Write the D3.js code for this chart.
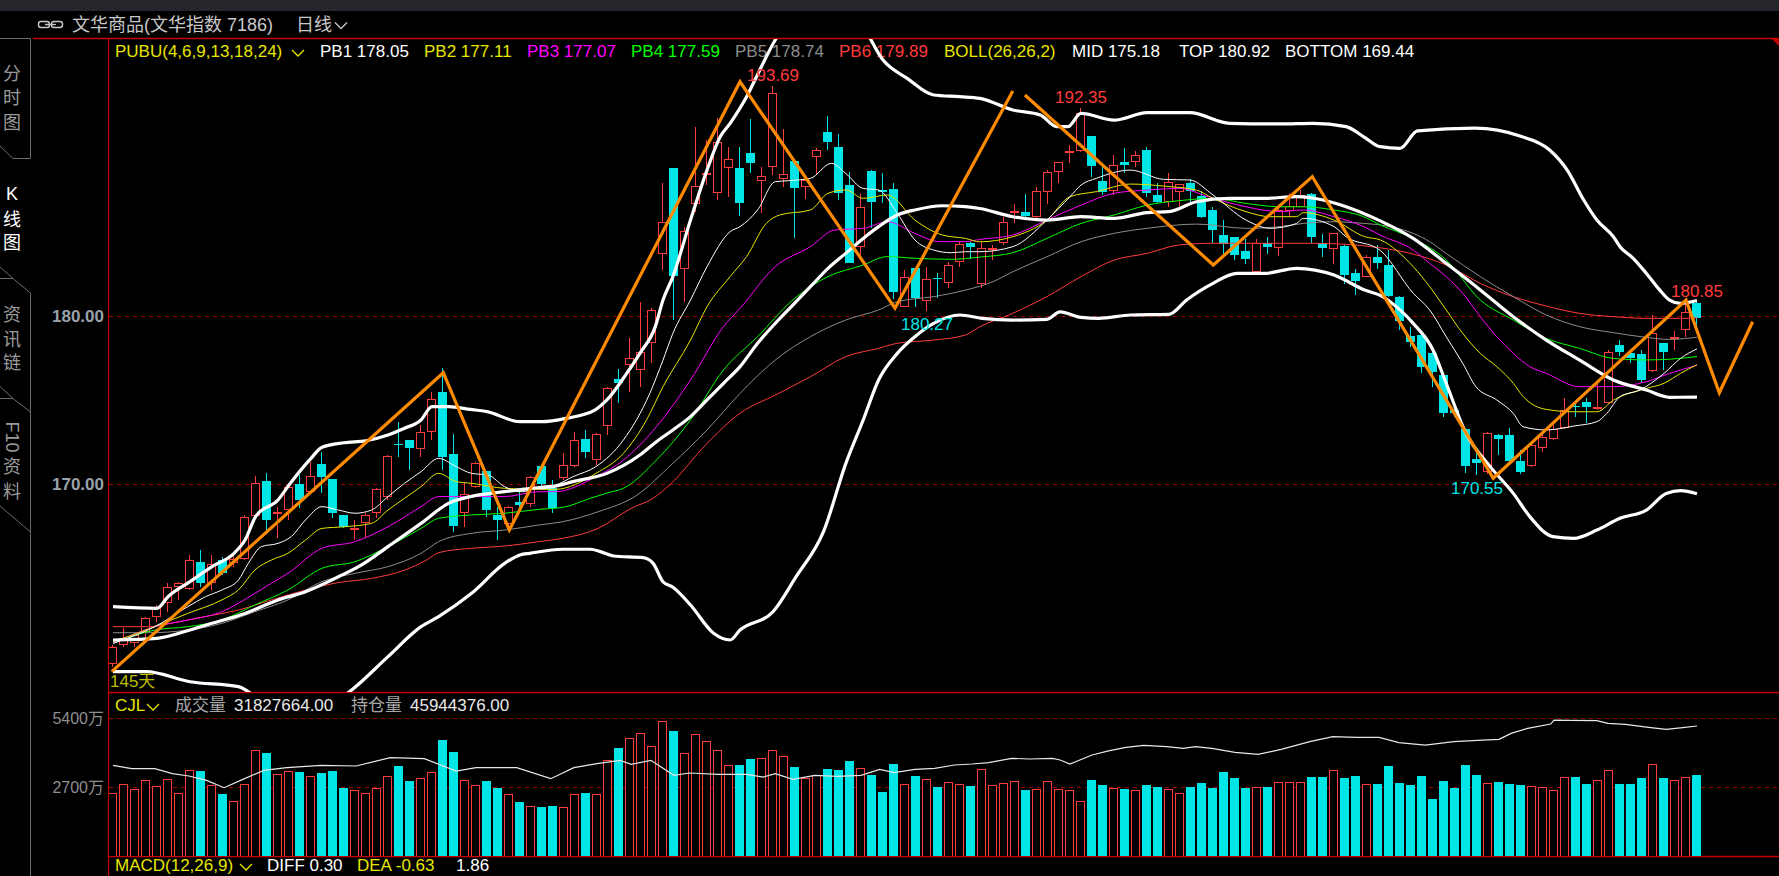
<!DOCTYPE html>
<html><head><meta charset="utf-8">
<script src="https://cdn.jsdelivr.net/npm/d3@7/dist/d3.min.js"></script>
<style>
html,body{margin:0;padding:0;background:#000;overflow:hidden;}
svg{display:block;}
text{font-family:"Liberation Sans",Arial,"Noto Sans CJK SC",sans-serif;}
</style></head><body>
<svg id="chart" width="1779" height="876"></svg>
<script>
// ---------------- DATA ----------------
const opens = [159.32,160.45,160.55,161.24,162.10,162.93,163.92,163.76,165.36,164.16,
165.48,165.30,165.54,168.12,170.20,168.22,168.47,170.02,169.52,171.21,
170.32,168.18,167.26,167.68,168.31,169.23,172.37,172.63,172.08,173.13,
175.50,171.78,168.31,169.82,170.79,168.18,167.62,168.97,168.81,171.09,
169.76,170.35,171.09,172.69,171.44,173.48,176.26,177.09,176.79,178.41,
183.66,188.77,182.77,186.63,188.44,187.29,188.77,188.77,189.66,188.04,
188.83,188.12,189.21,187.64,189.47,190.95,190.02,187.78,184.08,188.61,
187.49,187.55,180.51,182.83,180.91,182.24,181.94,183.19,184.32,181.90,
183.92,184.32,186.14,186.16,185.90,187.39,188.57,189.70,189.82,190.69,
188.02,187.44,189.15,189.17,189.86,187.17,186.79,187.35,187.88,187.13,
186.30,184.81,184.67,183.86,182.59,184.32,184.02,186.26,186.49,187.25,
184.32,183.96,184.18,182.53,182.33,183.48,183.03,181.15,178.81,178.87,
177.82,176.49,174.41,173.27,171.48,170.75,172.93,172.93,171.38,171.09,
172.14,172.67,173.33,174.65,174.87,174.47,174.81,178.28,177.78,177.74,
176.73,178.38,178.63,179.17,180.75];
const highs = [160.45,161.44,161.15,162.14,162.83,164.12,164.22,165.80,166.10,165.80,
165.70,165.80,168.18,170.49,170.65,168.67,169.96,170.55,171.35,171.94,
170.32,168.18,167.88,168.27,169.76,171.74,173.72,172.63,173.52,175.46,
176.90,172.99,170.06,171.35,170.79,168.67,168.73,169.66,170.49,171.09,
170.26,171.84,173.13,173.23,173.03,175.80,176.83,178.67,180.85,180.45,
187.88,188.77,185.31,191.25,190.46,191.74,190.06,190.02,191.68,188.83,
193.69,191.11,189.27,188.18,189.96,191.88,190.81,188.57,187.25,188.67,
188.51,187.88,182.73,182.83,182.93,182.53,183.23,184.48,184.42,184.42,
184.22,185.90,186.65,187.25,187.68,188.67,189.17,190.16,192.35,190.69,
188.83,189.56,189.96,189.80,190.06,187.92,188.47,187.82,188.14,187.42,
186.45,185.70,184.71,184.57,184.55,184.67,186.59,187.29,187.48,187.30,
184.85,184.95,184.20,182.77,183.62,184.22,183.92,181.20,179.37,179.07,
178.18,176.55,174.61,173.33,171.94,173.13,172.97,173.33,172.04,172.43,
173.13,173.52,175.11,174.91,175.11,176.00,177.98,178.57,177.98,177.98,
180.06,178.40,179.11,180.80,180.85];
const lows = [159.16,160.35,160.35,160.95,161.84,162.43,163.13,163.72,163.92,163.72,
164.61,165.11,165.50,168.08,167.28,166.79,167.88,168.57,169.46,169.46,
167.98,167.38,166.69,166.79,167.98,169.07,171.64,170.85,171.64,172.63,
170.85,167.19,167.48,169.76,168.08,166.69,167.48,168.67,168.67,169.86,
168.28,170.25,171.05,171.54,171.15,172.93,174.85,175.50,175.80,177.23,
182.73,179.76,180.85,186.20,187.78,186.89,187.09,185.96,188.48,186.10,
188.38,187.68,184.61,186.93,188.38,189.86,186.89,183.13,183.52,185.21,
186.69,180.99,180.51,180.55,180.27,181.05,181.64,182.89,183.37,181.68,
183.32,184.22,185.50,185.90,185.80,186.65,187.88,189.11,189.76,188.28,
187.19,187.19,188.47,188.83,187.05,186.69,186.45,186.53,186.79,185.80,
184.32,183.68,183.32,183.11,182.59,183.68,183.58,185.90,186.49,184.32,
183.48,183.09,181.90,181.22,182.33,182.77,181.15,179.17,178.18,176.59,
175.76,174.02,174.02,170.69,170.55,170.60,171.74,171.34,170.61,171.01,
171.94,172.63,173.30,174.02,173.66,174.41,174.77,177.62,177.23,176.04,
176.69,176.79,177.98,178.73,179.37];
const closes = [160.35,160.85,161.03,162.04,162.63,163.92,164.12,165.50,164.16,165.24,
164.75,165.54,168.04,170.06,167.90,168.37,169.82,169.07,170.51,170.41,
168.28,167.48,167.38,168.18,169.70,171.70,172.32,172.14,173.13,175.05,
171.64,167.54,169.40,171.25,168.47,167.88,168.67,168.77,170.41,170.02,
168.57,171.15,172.63,171.94,172.99,175.70,176.04,177.48,177.84,180.36,
185.60,182.39,185.07,187.74,188.52,190.32,189.31,186.73,189.11,188.30,
193.23,188.42,187.58,188.08,189.86,190.36,187.29,183.13,186.46,186.79,
187.39,181.41,182.30,181.09,182.18,182.18,183.03,184.28,184.08,184.06,
184.02,185.56,186.24,185.94,187.42,188.53,189.13,189.80,192.04,188.91,
187.39,188.95,188.95,189.54,187.33,186.77,187.94,187.82,187.44,185.88,
185.11,184.28,183.62,183.38,184.32,184.08,186.30,186.53,187.19,184.71,
184.06,184.91,182.43,182.10,183.48,183.17,181.21,179.72,178.48,176.99,
176.69,174.22,174.22,171.09,171.29,173.03,172.71,171.40,170.73,172.33,
172.83,173.27,174.41,174.57,174.57,174.57,177.88,177.88,177.48,176.20,
178.97,177.84,178.77,180.22,179.86];
// volume, in 万
const volumes = [2478,2830,2634,2960,2725,2999,2478,3351,3325,2791,
2412,2139,2804,4134,4029,3195,3312,3286,3143,3247,
3325,2660,2569,2478,2647,3143,3508,2921,3064,3273,
4525,4069,2960,2765,2921,2660,2412,2099,1943,1904,
1943,1904,2412,2451,2412,3742,4212,4629,4825,4316,
5294,4877,4016,4786,4512,4160,3573,3547,3782,3847,
4160,3899,3469,3064,3156,3390,3351,3704,3456,3182,
2498,3593,2804,3130,2999,2699,2882,2804,2738,3390,
2764,2843,2921,2582,2608,2921,2608,2569,2139,2973,
2778,2647,2621,2569,2778,2699,2608,2478,2699,2856,
2660,3286,3051,2660,2712,2699,2882,2882,2882,3090,
3090,3351,3051,3130,2804,2817,3521,2856,2778,3130,
2230,2934,2660,3560,3169,2843,2895,2817,2778,2725,
2686,2569,3077,3090,2817,2960,3351,2817,2817,3051,
3586,3051,2960,3077,3183];

// indicator lines: [day index, value]
const pb1 = [[0,160.55],[3.8,161.54],[6.8,162.73],[8.4,163.32],[9.9,163.72],[11.4,164.31],[12.3,165.3],[13.5,166.3],[15,166.49],[16.2,166.89],[17.5,167.88],[19,168.67],[20.5,168.47],[22,168.28],[23.5,168.47],[25,169.27],[26.5,170.06],[28,170.75],[29.6,171.54],[31.2,171.05],[32.6,170.65],[34.1,170.55],[35.6,169.86],[37.2,169.56],[38.7,169.86],[40.2,169.96],[41.8,170.45],[43.9,171.05],[46.4,172.63],[48.8,175.4],[50,177.38],[50.9,178.97],[52.5,180.95],[54,182.93],[56.1,185.01],[57,185.31],[58.6,186.3],[60.2,187.98],[61.4,188.04],[63.4,188.18],[65.3,189.07],[66.6,188.48],[68.2,187.58],[69.6,187.49],[71.3,186.1],[72.9,184.52],[74.6,183.92],[76.2,183.76],[77.5,183.82],[78.8,183.82],[81.8,184.12],[84.9,185.7],[87,187.09],[88,187.78],[89.4,188.18],[92.5,188.67],[95.5,188.12],[97.9,188.08],[100,187.19],[103,185.7],[105.2,185.21],[107.6,185.5],[108.2,185.8],[111,185.31],[112.1,184.71],[115.2,183.9],[118.2,181.35],[119.7,180.36],[121.2,178.77],[122.7,177.19],[123.9,175.8],[125.8,175.01],[127.3,174.21],[128.2,173.42],[130.3,173.23],[132.8,173.46],[134.9,173.72],[135.8,174.21],[137,175.21],[138.8,175.6],[141,176.59],[142.5,177.48],[144,178.05]];
const pb2 = [[0,160.65],[3.8,161.54],[6.8,162.33],[9.9,163.13],[11.4,163.72],[12.9,164.91],[14.4,165.5],[15.9,165.9],[17.5,166.69],[19,167.38],[21.1,167.48],[23.5,167.68],[25,168.47],[26.5,169.17],[28,169.86],[29.6,170.65],[31.2,170.16],[32.6,170.06],[35.6,169.76],[38.7,169.7],[40.2,169.7],[43.9,170.65],[46.4,171.84],[48.5,173.82],[50,175.8],[52.5,178.57],[54,180.55],[56.1,182.34],[57.6,183.53],[59.4,185.51],[60.6,186],[63.4,186.3],[65,187.29],[66.6,187.49],[68.2,186.99],[70.4,187.19],[72.9,185.7],[75.4,184.81],[77.5,184.61],[78.8,184.41],[81.8,184.71],[84.9,185.7],[87,187.09],[89.4,187.39],[92.5,187.84],[95.5,187.72],[98.5,187.48],[100,186.99],[103,186.2],[105.2,185.9],[107.6,185.9],[108.2,186.14],[111,185.7],[113.8,184.71],[115.2,184.52],[118.2,182.93],[119.7,181.74],[121.2,180.36],[122.7,178.97],[124.3,177.78],[125.8,176.99],[127.3,176],[128.2,175.21],[130.3,174.45],[132.8,174.31],[134.9,174.31],[136.4,175],[139.4,175.7],[141,176],[142.5,176.59],[144,177.11]];
const pb3 = [[0,160.55],[3.8,161.54],[6.8,161.94],[9.9,162.43],[11.4,162.93],[12.9,163.52],[14.4,164.12],[15.9,164.71],[19,166.2],[22,166.59],[25,167.48],[28,168.67],[29.6,169.27],[32.6,169.27],[35.6,169.27],[38.7,169.56],[40.2,169.56],[43.9,170.45],[46.4,171.44],[49.4,173.42],[52.5,176.2],[55.5,179.37],[57,180.45],[60.2,182.93],[63.4,184.12],[65.6,185.11],[68.2,185.21],[70.4,185.6],[72.9,184.91],[75.1,184.42],[77.5,184.42],[78.8,184.55],[81.8,184.81],[84.9,185.7],[88,186.59],[91,187.29],[94,187.48],[96.9,187.58],[100,186.99],[103,186.49],[106.1,186.2],[108.2,186.3],[111,185.9],[113.7,185.31],[115.2,184.81],[118.2,183.92],[119.7,183.13],[121.2,182.34],[122.7,181.35],[124.3,179.96],[125.8,178.77],[127.3,177.78],[128.8,176.99],[130.3,176.59],[133.3,175.8],[136.4,175.8],[139.4,176.1],[141.5,176.59],[144,177.07]];
const pb4 = [[0,160.55],[3.8,161.34],[6.8,161.54],[9.9,161.94],[12.9,162.83],[15.9,163.72],[19,165.01],[22,165.4],[25,166.3],[28,167.38],[29.6,167.98],[32.6,168.18],[35.6,168.28],[38.7,168.51],[40.9,168.63],[43.4,169.17],[45,169.5],[46.4,169.76],[49.4,171.44],[52.5,173.82],[55.5,176.79],[58.6,178.77],[61.8,180.95],[65,182.34],[68.2,183.03],[70.4,183.53],[72.9,183.43],[76.2,183.37],[78.8,183.5],[81.8,183.76],[84.9,184.61],[88,185.5],[91,186],[94,186.59],[96.9,186.85],[100,186.99],[103,186.69],[106.1,186.49],[108.2,186.49],[111,186.3],[113.7,185.9],[115.2,185.41],[118.2,184.61],[121.2,183.33],[124.3,180.95],[127.3,179.76],[130.3,178.67],[133.3,178.08],[136.4,177.48],[139.4,177.39],[141.5,177.43],[144,177.59]];
const pb5 = [[0,161.18],[3.2,161.18],[6.8,161.34],[9.9,161.74],[12.9,162.43],[15.9,163.13],[19,164.22],[22,164.71],[25,165.11],[28,165.9],[29.6,166.59],[32.6,167.09],[35.6,167.28],[38.7,167.58],[40.9,167.78],[44.1,168.37],[47.5,169.3],[50.9,171.25],[54,173.23],[57,175.4],[60.2,177.38],[63.4,178.77],[66.6,179.76],[69.6,180.36],[71.3,180.85],[74.6,181.15],[77.5,181.54],[80,182.04],[81.8,182.63],[84.9,183.52],[88,184.41],[91,184.91],[94,185.21],[98.5,185.46],[103,185.21],[106.1,185.31],[108.2,185.5],[111,185.6],[113.7,185.5],[115.2,185.41],[118.2,184.91],[119.7,184.42],[121.2,183.72],[124.3,182.34],[127.3,181.15],[130.3,180.06],[133.3,179.37],[136.4,179.01],[139.4,178.73],[141.5,178.61],[144,178.74]];
const pb6 = [[0,161.54],[3.2,161.54],[5.3,161.74],[8.4,162.14],[11.4,162.53],[14.4,163.13],[17.5,163.72],[20.5,164.16],[23.5,164.41],[26.5,164.9],[28.5,165.5],[29.6,165.94],[32.6,166.2],[35.6,166.33],[38.7,166.59],[40.9,166.79],[44.1,167.38],[47.1,168.57],[49.1,169.17],[50.6,169.96],[54,172.43],[57,174.22],[60.2,175.3],[63.4,176.39],[66.6,177.58],[69.6,178.08],[71.3,178.38],[74.6,178.57],[77.5,178.87],[78.8,179.36],[81.8,180.16],[84.9,181.15],[88,182.34],[91,183.32],[94,183.72],[96.9,184.22],[100,184.32],[103,184.32],[106.1,184.32],[109.1,184.32],[112.1,184.26],[115.2,184.05],[118.2,183.68],[121.2,183.03],[124.3,181.94],[127.3,181.15],[130.3,180.59],[133.3,180.16],[136.4,179.96],[139.4,179.86],[142.5,179.86],[144,179.89]];
const bollTop = [[0,162.73],[4,162.63],[5,163.32],[7,164.22],[9,165.11],[11,165.9],[12,166.69],[13,168.12],[15,169.07],[16,169.96],[18,171.54],[19,172.2],[21,172.47],[23,172.59],[25,172.93],[26.5,173.33],[28,173.82],[29,174.61],[30.5,174.61],[32.5,174.45],[34,174.32],[37,173.72],[39,173.72],[41.2,173.92],[43.8,174.41],[44.9,175.01],[46.7,176.59],[47.9,177.78],[49.3,179.37],[50,180.95],[50.9,182.34],[52.5,185.7],[54,188.67],[55.2,190.65],[56.1,191.45],[57.6,193.03],[58.8,194.62],[60.2,196.4],[62,198],[64,199],[66,198.6],[68,197.4],[70,195.21],[72.2,194.12],[74.6,193.13],[77,193.03],[78.8,192.93],[81.8,192.24],[84.3,191.94],[85.8,191.25],[86.8,191.25],[88,192.04],[91,191.64],[94,192.08],[97.9,192.08],[101.5,191.45],[106.1,191.41],[109.1,191.45],[112.1,191.25],[113.7,190.65],[115.2,190.06],[117,189.96],[118.6,191],[123.8,191.16],[127.9,190.69],[130.6,189.86],[132.2,188.67],[133.7,186.89],[134.9,185.7],[136.4,184.71],[137,184.12],[138.2,183.43],[139.4,182.53],[140.6,181.55],[141.5,180.95],[142.5,180.75],[144,180.92]];
const bollMid = [[0,160.75],[4,160.85],[7,161.34],[9,161.74],[12,162.33],[15,163.13],[17.5,163.62],[20.5,164.51],[22.6,165.21],[25,166.3],[28,167.68],[30.5,168.87],[32.5,169.27],[35.6,169.56],[38,169.76],[40,169.86],[41.8,170.16],[44.9,170.65],[47.9,171.74],[49.4,172.53],[50.9,173.23],[52.5,174.02],[54,175.01],[55.5,176],[57,176.99],[58.6,178.38],[60.2,179.56],[61.8,180.65],[63.4,181.74],[65,182.83],[66.6,183.72],[68.2,184.61],[69.6,185.31],[71.3,186],[72.9,186.3],[75.4,186.55],[77.5,186.5],[78.8,186.39],[81.8,185.9],[84.9,185.7],[88,185.9],[91,185.8],[94,186.14],[96,186.2],[98.5,186.79],[101.5,186.99],[104.6,186.99],[107.6,187.09],[110,186.89],[112.1,186.49],[115.2,185.65],[118.2,184.61],[121.2,183.13],[124.3,181.55],[127.3,179.96],[130.3,178.57],[133.3,177.39],[136.4,176.2],[139.4,175.6],[141.5,175.17],[144,175.18]];
const bollBot = [[0,158.87],[3,158.87],[7,158.27],[11.4,157.98],[14,156.9],[17,156.5],[20,157],[21.7,157.78],[25,159.76],[28,161.54],[29.6,162.14],[32.6,163.52],[35.6,165.3],[37,165.8],[37.9,165.9],[40.9,166.14],[43.4,166.14],[44.3,166],[45.5,165.74],[48.2,165.64],[49.1,165.3],[50,164.21],[50.9,163.88],[52.5,162.83],[54.6,161.15],[56.1,160.75],[57,161.34],[60,162.43],[62.1,164.51],[64.6,167.2],[66.6,171.2],[68.2,173.82],[69.6,176.2],[71.3,177.78],[72.9,178.77],[74.6,179.56],[77,180.06],[79,179.86],[81.8,179.76],[84.9,179.8],[86.1,180.25],[88,179.92],[89.6,179.86],[92.5,180.06],[96,180.1],[97.6,180.95],[100,181.94],[102.2,182.53],[104.6,182.53],[107.6,182.83],[111,182.43],[113.8,181.54],[115.3,181.2],[117,180.36],[118.2,179.56],[120,177.98],[121.2,176],[123,173.03],[125.2,171.05],[127.3,169.46],[128.8,168.08],[130.9,166.89],[132.8,166.79],[134.9,167.28],[137,167.98],[139.4,168.47],[141.2,169.46],[142.5,169.62],[144,169.44]];
const volMa = [[0,3547],[1.7,3417],[3.8,3417],[5.4,3221],[6.9,3130],[8.5,2960],[10.1,2673],[11.6,2960],[13.7,3351],[15.8,3456],[18.9,3547],[22.1,3521],[25.2,3847],[28.3,3808],[31.2,3325],[33,3456],[36.7,3456],[39.8,3025],[41.9,3456],[44,3612],[46.1,3742],[47.1,3586],[48.9,3742],[51,3156],[52.4,3247],[55,3195],[57.6,3195],[59.1,3090],[60.2,3221],[61.8,2999],[63.8,3156],[65.9,3117],[68,3156],[69.7,3390],[71,3260],[72.9,3390],[74.7,3430],[76.5,3560],[78.1,3599],[79.6,3651],[81.7,3821],[83.3,3795],[85.4,3821],[86.1,3756],[87,3599],[89,3951],[90.6,4121],[92.1,4251],[93.7,4329],[95.8,4277],[97.3,4212],[98.4,4277],[99.9,4212],[102,4056],[104.1,3977],[106.2,4173],[108.8,4473],[110.9,4668],[113,4642],[115.1,4642],[116.9,4434],[119.3,4342],[121.9,4473],[124.5,4538],[126,4564],[127.1,4799],[128.6,4994],[130.7,5164],[131,5320],[132.3,5307],[134.9,5294],[135.9,5190],[137.5,5151],[139.6,5033],[141.2,4955],[142.7,5020],[144,5086]];
// zigzag pattern (two strokes)
const zigzagA = [[-0.12,158.87],[30.03,176.63],[36.03,167.28],[57.0,193.92],[71.09,180.46],[81.8,193.37]];
const zigzagB = [[82.9,193.13],[100.03,183.03],[109.03,188.28],[125.48,170.36],[143.0,180.95],[146.03,175.44],[149.06,179.66]];
// extreme labels
const highMarks = [60, 88, 144];
const lowMarks = [74, 124];
// ticks
const priceTicks = [170, 180];
const volTicks = [2700, 5400];
// texts
const titleText = "文华商品(文华指数 7186)";
const periodText = "日线";
const pubuName = "PUBU(4,6,9,13,18,24)";
const pbNames = ["PB1","PB2","PB3","PB4","PB5","PB6"];
const pbLast = [178.05,177.11,177.07,177.59,178.74,179.89];
const bollName = "BOLL(26,26,2)";
const bollNames = ["MID","TOP","BOTTOM"];
const bollLast = [175.18,180.92,169.44];
const volHeader = ["CJL","成交量","31827664.00","持仓量","45944376.00"];
const macdHeader = ["MACD(12,26,9)","DIFF 0.30","DEA -0.63","1.86"];
const dayCountText = "145天";
const tabs = ["分时图","K线图","资讯链"];
const tabF10 = ["F10","资","料"];

// ---------------- DRAW ----------------
const W = 1779, H = 876;
const L = 108, PT = 38, PB = 692, VB = 856;
const RED = "#ff3b3b", CYAN = "#00e6e6", BORDER = "#c40000", GRID = "#a00000";
const svg = d3.select("#chart");
svg.append("rect").attr("width", W).attr("height", H).attr("fill", "#000");
svg.append("rect").attr("width", W).attr("height", 11).attr("fill", "#24262b");

const x = d3.scaleLinear().domain([0, 144]).range([113, 1697]);
const y = d3.scaleLinear().domain([170, 180]).range([484.3, 316]);
const yv = d3.scaleLinear().domain([0, 2700]).range([VB, 787]);

const defs = svg.append("defs");
defs.append("clipPath").attr("id", "clipP").append("rect").attr("x", L + 1).attr("y", PT + 1).attr("width", W - L).attr("height", PB - PT - 1);
defs.append("clipPath").attr("id", "clipV").append("rect").attr("x", L + 1).attr("y", PB + 1).attr("width", W - L).attr("height", VB - PB - 1);

// ---- title row
const ico = svg.append("g").attr("stroke", "#c8c8c8").attr("fill", "none").attr("stroke-width", 1.4);
ico.append("rect").attr("x", 38.5).attr("y", 21.5).attr("width", 11).attr("height", 6).attr("rx", 2.5);
ico.append("rect").attr("x", 51.5).attr("y", 21.5).attr("width", 11).attr("height", 6).attr("rx", 2.5);
ico.append("line").attr("x1", 45).attr("x2", 56).attr("y1", 24.5).attr("y2", 24.5);
svg.append("text").attr("x", 72).attr("y", 31).attr("font-size", 18).attr("fill", "#c8c8c8").text(titleText);
svg.append("text").attr("x", 296).attr("y", 31).attr("font-size", 18).attr("fill", "#c8c8c8").text(periodText);
function chevron(cx, cy, color) {
  svg.append("path").attr("d", `M${cx},${cy} L${cx + 6},${cy + 6} L${cx + 12},${cy}`)
    .attr("fill", "none").attr("stroke", color).attr("stroke-width", 1.3);
}
chevron(335, 22.5, "#c8c8c8");

// ---- frame lines
svg.append("line").attr("x1", 33).attr("x2", W).attr("y1", PT + 0.5).attr("y2", PT + 0.5).attr("stroke", BORDER).attr("stroke-width", 1.5);
svg.append("path").attr("d", `M${W - 8},${PT} L${W},${PT} L${W},${PT + 8}Z`).attr("fill", BORDER);
svg.append("line").attr("x1", L + 0.5).attr("x2", L + 0.5).attr("y1", PT).attr("y2", H).attr("stroke", BORDER).attr("stroke-width", 1.2);
svg.append("line").attr("x1", L).attr("x2", W).attr("y1", PB + 0.5).attr("y2", PB + 0.5).attr("stroke", BORDER).attr("stroke-width", 1.5);
svg.append("line").attr("x1", L).attr("x2", W).attr("y1", VB + 0.5).attr("y2", VB + 0.5).attr("stroke", BORDER).attr("stroke-width", 1.5);

// ---- sidebar tabs
const sbc = "#6a6a6a";
const sb = svg.append("g").attr("fill", "none").attr("stroke", sbc).attr("stroke-width", 1);
sb.append("path").attr("d", "M0,38.5 H30.5 V158.5 H13 L0,146");
sb.append("path").attr("d", "M0,267 L13,278.5 L30.5,293 V876 M0,278.5 H13");
sb.append("path").attr("d", "M0,386.5 L13,398.5 L30.5,412 M0,398.5 H13");
sb.append("path").attr("d", "M0,506 L30.5,532");
const tabCenters = [[74, 98, 123], [194, 220, 243], [315, 340, 363]];
tabs.forEach((t, k) => {
  Array.from(t).forEach((ch, j) => {
    svg.append("text").attr("x", 12).attr("y", tabCenters[k][j]).attr("text-anchor", "middle")
      .attr("dominant-baseline", "central").attr("font-size", 18)
      .attr("fill", k === 1 ? "#ffffff" : "#9a9a9a").text(ch);
  });
});
svg.append("text").attr("transform", "translate(12,437) rotate(90)").attr("text-anchor", "middle")
  .attr("dominant-baseline", "central").attr("font-size", 18).attr("fill", "#9a9a9a").text(tabF10[0]);
svg.append("text").attr("x", 12).attr("y", 467).attr("text-anchor", "middle").attr("dominant-baseline", "central")
  .attr("font-size", 18).attr("fill", "#9a9a9a").text(tabF10[1]);
svg.append("text").attr("x", 12).attr("y", 492).attr("text-anchor", "middle").attr("dominant-baseline", "central")
  .attr("font-size", 18).attr("fill", "#9a9a9a").text(tabF10[2]);

// ---- grid + axes
priceTicks.forEach(t => {
  svg.append("line").attr("x1", L + 1).attr("x2", W).attr("y1", Math.round(y(t)) + 0.5).attr("y2", Math.round(y(t)) + 0.5)
    .attr("stroke", GRID).attr("stroke-dasharray", "4,4");
});
volTicks.forEach(t => {
  svg.append("line").attr("x1", L + 1).attr("x2", W).attr("y1", Math.round(yv(t)) + 0.5).attr("y2", Math.round(yv(t)) + 0.5)
    .attr("stroke", GRID).attr("stroke-dasharray", "4,4");
});
const ax = svg.append("g").attr("transform", `translate(${L},0)`)
  .call(d3.axisLeft(y).tickValues(priceTicks).tickFormat(d3.format(".2f")).tickSize(0).tickPadding(4));
ax.select(".domain").remove();
ax.selectAll("text").attr("fill", "#9aa2ab").attr("font-size", 17).attr("font-weight", "bold")
  .attr("font-family", '"Liberation Sans",Arial,sans-serif');
const axv = svg.append("g").attr("transform", `translate(${L},0)`)
  .call(d3.axisLeft(yv).tickValues(volTicks).tickFormat(d => d + "万").tickSize(0).tickPadding(4));
axv.select(".domain").remove();
axv.selectAll("text").attr("fill", "#8e8e8e").attr("font-size", 16)
  .attr("font-family", '"Liberation Sans",Arial,"Noto Sans CJK SC",sans-serif');

// ---- legend row
const legend = [
  [115, pubuName, "#e6e600"],
  [320, pbNames[0] + " " + pbLast[0].toFixed(2), "#ffffff"],
  [424, pbNames[1] + " " + pbLast[1].toFixed(2), "#e6e600"],
  [527, pbNames[2] + " " + pbLast[2].toFixed(2), "#ff00ff"],
  [631, pbNames[3] + " " + pbLast[3].toFixed(2), "#00ff00"],
  [735, pbNames[4] + " " + pbLast[4].toFixed(2), "#8c8c8c"],
  [839, pbNames[5] + " " + pbLast[5].toFixed(2), "#ff3b3b"],
  [944, bollName, "#e6e600"],
  [1072, bollNames[0] + " " + bollLast[0].toFixed(2), "#ffffff"],
  [1179, bollNames[1] + " " + bollLast[1].toFixed(2), "#ffffff"],
  [1285, bollNames[2] + " " + bollLast[2].toFixed(2), "#ffffff"]
];
legend.forEach(([lx, t, c]) => svg.append("text").attr("x", lx).attr("y", 57).attr("font-size", 17).attr("fill", c).text(t));
chevron(292, 50, "#e6e600");

// ---- price panel
const gP = svg.append("g").attr("clip-path", "url(#clipP)");
const idx = d3.range(opens.length);
const isUp = i => closes[i] >= opens[i];
idx.forEach(i => {
  const xc = Math.round(x(i));
  const top = Math.round(y(Math.max(opens[i], closes[i])));
  let bot = Math.round(y(Math.min(opens[i], closes[i])));
  if (bot - top < 1) bot = top + 1;
  const yh = Math.round(y(highs[i])), yl = Math.round(y(lows[i]));
  if (isUp(i)) {
    gP.append("line").attr("x1", xc - 0.5).attr("x2", xc - 0.5).attr("y1", yh).attr("y2", top).attr("stroke", RED);
    gP.append("line").attr("x1", xc - 0.5).attr("x2", xc - 0.5).attr("y1", bot).attr("y2", yl).attr("stroke", RED);
    gP.append("rect").attr("x", xc - 4.5).attr("y", top + 0.5).attr("width", 8).attr("height", Math.max(1, bot - top - 1))
      .attr("fill", "#000").attr("stroke", RED).attr("stroke-width", 1);
  } else {
    gP.append("line").attr("x1", xc - 0.5).attr("x2", xc - 0.5).attr("y1", yh).attr("y2", yl).attr("stroke", CYAN);
    gP.append("rect").attr("x", xc - 5).attr("y", top).attr("width", 9).attr("height", Math.max(1, bot - top))
      .attr("fill", CYAN).attr("shape-rendering", "crispEdges");
  }
});
const ln = d3.line().x(d => x(d[0])).y(d => y(d[1])).curve(d3.curveMonotoneX);
[[pb6, "#ff3b3b"], [pb5, "#8c8c8c"], [pb4, "#00ff00"], [pb3, "#ff00ff"], [pb2, "#e6e600"], [pb1, "#ffffff"]]
  .forEach(([pts, c]) => gP.append("path").attr("d", ln(pts)).attr("fill", "none").attr("stroke", c).attr("stroke-width", 1));
[bollTop, bollMid, bollBot].forEach(pts => gP.append("path").attr("d", ln(pts)).attr("fill", "none")
  .attr("stroke", "#ffffff").attr("stroke-width", 3.2).attr("stroke-linejoin", "round"));
const zl = d3.line().x(d => x(d[0])).y(d => y(d[1]));
[zigzagA, zigzagB].forEach(pts => gP.append("path").attr("d", zl(pts)).attr("fill", "none")
  .attr("stroke", "#ff8a00").attr("stroke-width", 3.2).attr("stroke-linejoin", "miter"));
highMarks.forEach(i => svg.append("text").attr("x", x(i)).attr("y", y(highs[i]) - 5).attr("text-anchor", "middle")
  .attr("font-size", 17).attr("fill", "#ff3b3b").text(highs[i].toFixed(2)));
lowMarks.forEach(i => svg.append("text").attr("x", x(i)).attr("y", y(lows[i]) + 19).attr("text-anchor", "middle")
  .attr("font-size", 17).attr("fill", CYAN).text(lows[i].toFixed(2)));
svg.append("text").attr("x", 110).attr("y", 687).attr("font-size", 17).attr("fill", "#bdbd00").text(dayCountText);

// ---- volume panel
const gV = svg.append("g").attr("clip-path", "url(#clipV)");
idx.forEach(i => {
  const xc = Math.round(x(i));
  const yt = Math.round(yv(volumes[i]));
  if (isUp(i)) {
    gV.append("rect").attr("x", xc - 4.5).attr("y", yt + 0.5).attr("width", 8).attr("height", VB - yt)
      .attr("fill", "#000").attr("stroke", RED).attr("stroke-width", 1);
  } else {
    gV.append("rect").attr("x", xc - 5).attr("y", yt).attr("width", 9).attr("height", VB - yt)
      .attr("fill", CYAN).attr("shape-rendering", "crispEdges");
  }
});
const lv = d3.line().x(d => x(d[0])).y(d => yv(d[1]));
gV.append("path").attr("d", lv(volMa)).attr("fill", "none").attr("stroke", "#e8e8e8").attr("stroke-width", 1.2);

// volume header
const vh = [[115, volHeader[0], "#e6e600"], [175, volHeader[1], "#a8a8a8"], [234, volHeader[2], "#e8e8e8"], [351, volHeader[3], "#a8a8a8"], [410, volHeader[4], "#e8e8e8"]];
vh.forEach(([lx, t, c]) => svg.append("text").attr("x", lx).attr("y", 711).attr("font-size", 17).attr("fill", c).text(t));
chevron(147, 704, "#e6e600");

// macd header
const mh = [[115, macdHeader[0], "#e6e600"], [267, macdHeader[1], "#ffffff"], [357, macdHeader[2], "#e6e600"], [456, macdHeader[3], "#ffffff"]];
mh.forEach(([lx, t, c]) => svg.append("text").attr("x", lx).attr("y", 871).attr("font-size", 17).attr("fill", c).text(t));
chevron(240, 864, "#e6e600");
</script>
</body></html>
